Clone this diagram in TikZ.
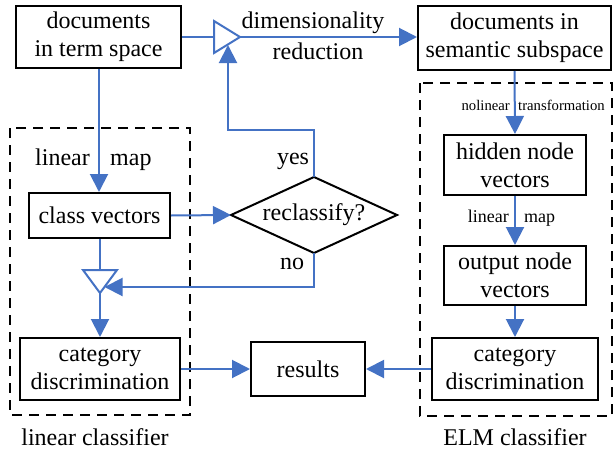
\documentclass[tikz,border=0pt]{standalone}
\usepackage{fontspec}
\setmainfont{Liberation Serif}
\usetikzlibrary{arrows.meta}
\definecolor{flow}{HTML}{4472C4}
\begin{document}
\begin{tikzpicture}[x=1pt,y=-1pt,
  box/.style={draw=black,line width=2pt,inner sep=0pt,align=center,font=\fontsize{24}{28}\selectfont},
  lbl/.style={inner sep=0pt,font=\fontsize{24}{28}\selectfont},
  slbl/.style={inner sep=0pt,font=\fontsize{18}{22}\selectfont},
  tlbl/.style={inner sep=0pt,font=\fontsize{14.7}{17}\selectfont},
  fl/.style={draw=flow,line width=2pt},
  arr/.style={fl,-{Triangle[length=18pt,width=18pt]}},
  group/.style={draw=black,line width=2pt,dash pattern=on 10pt off 7pt}
]
\useasboundingbox (0,0) rectangle (615,452);
% dashed groups
\draw[group] (10,128) rectangle (190,415);
\draw[group] (420,83) rectangle (612,416);
\node[lbl] (lc) at (95,437) {linear classifier};
\node[lbl] (ec) at (515,437) {ELM classifier};
% boxes
\node[box,minimum width=165pt,minimum height=62pt] (dts) at (98.5,37) {documents\\in term space};
\node[box,minimum width=193pt,minimum height=64pt] (dss) at (514.5,38) {documents in\\semantic subspace};
\node[box,minimum width=141pt,minimum height=45pt] (cv) at (99.5,215.5) {class vectors};
\node[box,minimum width=160pt,minimum height=62pt] (cd1) at (100,369) {category\\discrimination};
\node[box,minimum width=114pt,minimum height=54pt] (res) at (308,369) {results};
\node[box,minimum width=166pt,minimum height=62pt] (cd2) at (515,369) {category\\discrimination};
\node[box,minimum width=142pt,minimum height=60pt] (hnv) at (515,165) {hidden node\\vectors};
\node[box,minimum width=142pt,minimum height=59pt] (onv) at (515,275.5) {output node\\vectors};
% decision diamond
\node[lbl] (rc) at (314,215) {reclassify?};
\coordinate (rcN) at (314,177);
\coordinate (rcS) at (314,253);
\coordinate (rcW) at (231,215);
\coordinate (rcE) at (397,215);
\draw[black,line width=2pt,line join=miter] (rcN) -- (rcE) -- (rcS) -- (rcW) -- cycle;
% merge triangles
\coordinate (t1a) at (214,21);
\coordinate (t1b) at (214,53);
\coordinate (t1c) at (240,37);
\draw[fl,line join=miter] (t1a) -- (t1b) -- (t1c) -- cycle;
\coordinate (t2a) at (83,270);
\coordinate (t2b) at (117,270);
\coordinate (t2c) at (100,293);
\draw[fl,line join=miter] (t2a) -- (t2b) -- (t2c) -- cycle;
% connectors
\draw[fl] (dts.east) -- (t1b |- dts.east);
\draw[arr] (t1c) -- (dss.west |- t1c);
\draw[arr] (dts.south -| 99,0) -- (cv.north -| 99,0);
\draw[arr] (cv.east) -- (rcW);
\coordinate (yesc) at (314,130);
\coordinate (yesl) at (228,130);
\coordinate (t1in) at (228,45);
\draw[arr] (rcN) -- (yesc) -- (yesl) -- (t1in);
\coordinate (noc) at (314,287);
\coordinate (t2in) at (104.5,287);
\draw[arr] (rcS) -- (noc) -- (t2in);
\draw[fl] (cv.south -| t2c) -- (t2c |- t2a);
\draw[arr] (t2c) -- (cd1.north -| t2c);
\draw[arr] (cd1.east) -- (res.west);
\draw[arr] (cd2.west) -- (res.east);
\draw[arr] (dss.south) -- (hnv.north);
\draw[arr] (hnv.south) -- (onv.north);
\draw[arr] (onv.south) -- (cd2.north);
% labels
\node[lbl] (dr1) at (313,23) {dimensionality};
\node[lbl] (dr2) at (318,51) {reduction};
\node[lbl,anchor=base east] (lm1) at (90,165) {linear};
\node[lbl,anchor=base west] (lm2) at (110,165) {map};
\node[lbl] (yes) at (293,161) {yes};
\node[lbl] (no) at (292,264) {no};
\node[tlbl,anchor=base east] (nl) at (510,110) {nolinear};
\node[tlbl,anchor=base west] (tr) at (518,110) {transformation};
\node[slbl,anchor=base east] (lm3) at (509,222) {linear};
\node[slbl,anchor=base west] (lm4) at (524,222) {map};
\end{tikzpicture}
\end{document}
